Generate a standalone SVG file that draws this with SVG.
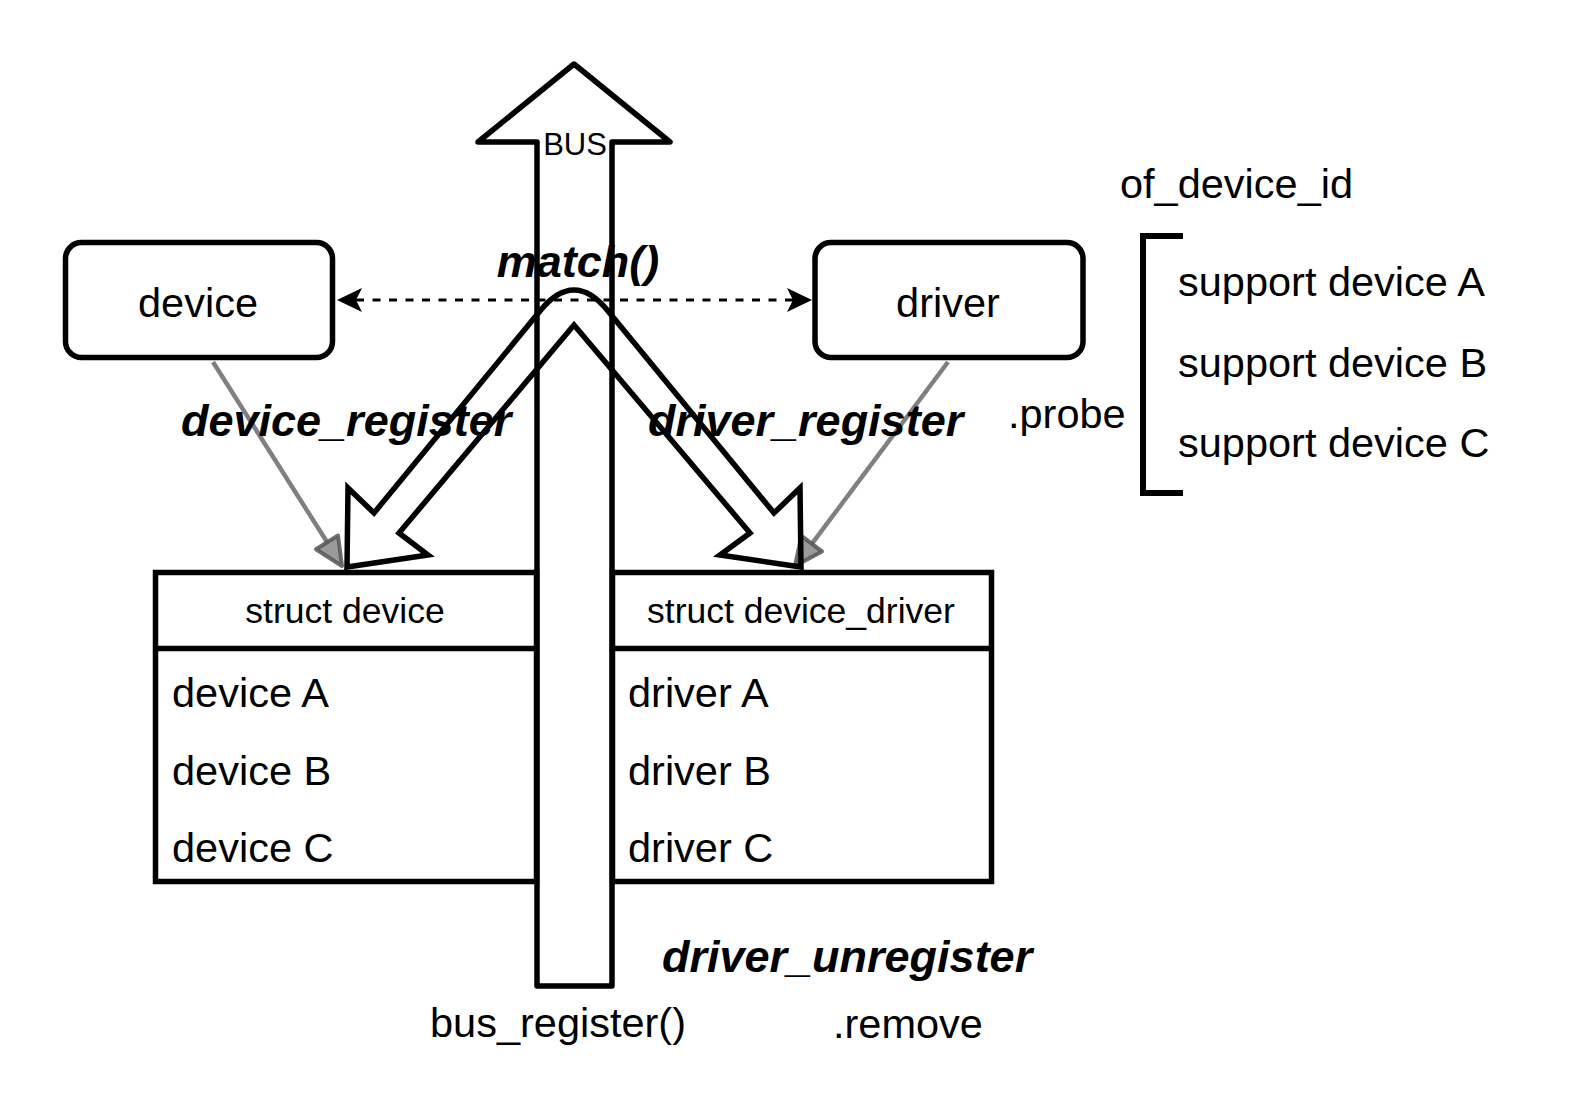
<svg xmlns="http://www.w3.org/2000/svg" width="1569" height="1116" viewBox="0 0 1569 1116">
<style>
.t{font-family:"Liberation Sans",Arial,sans-serif;fill:#000}
.r{font-size:41.5px}
.s{font-size:35.5px}
.b{font-size:45px;font-weight:bold;font-style:italic}
.box{fill:#fff;stroke:#000;stroke-width:5.5}
.big{fill:none;stroke:#000;stroke-width:5.5}
.gray{stroke:#808080;stroke-width:4.5;fill:none}
.gh{fill:#9a9a9a;stroke:#555;stroke-width:4;stroke-linejoin:round;stroke-opacity:0.85}
</style>
<rect width="1569" height="1116" fill="#fff"/>
<g id="bus">
<polygon points="574,64 670,142 612,142 612,986 537,986 537,142 478,142" fill="#fff" stroke="#000" stroke-width="5.5" stroke-linejoin="round"/>
<text class="t" x="575" y="155" font-size="31" text-anchor="middle">BUS</text>
</g>
<g id="struct-device">
<rect class="box" x="155.5" y="572.5" width="381" height="309"/>
<line x1="155.5" y1="648.5" x2="536.5" y2="648.5" stroke="#000" stroke-width="5.5"/>
<text class="t s" x="345" y="623" text-anchor="middle">struct device</text>
<text class="t r" x="172" y="707">device A</text>
<text class="t r" x="172" y="785">device B</text>
<text class="t r" x="172" y="862">device C</text>
</g>
<g id="struct-device-driver">
<rect class="box" x="612.5" y="572.5" width="379" height="309"/>
<line x1="612.5" y1="648.5" x2="991.5" y2="648.5" stroke="#000" stroke-width="5.5"/>
<text class="t s" x="801" y="623" text-anchor="middle">struct device_driver</text>
<text class="t r" x="628" y="707">driver A</text>
<text class="t r" x="628" y="785">driver B</text>
<text class="t r" x="628" y="862">driver C</text>
</g>
<g id="device">
<rect class="box" x="65.5" y="242.5" width="267" height="115" rx="16"/>
<text class="t r" x="198" y="317" text-anchor="middle">device</text>
</g>
<g id="driver">
<rect class="box" x="815" y="242.5" width="268" height="115" rx="16"/>
<text class="t r" x="948" y="317" text-anchor="middle">driver</text>
</g>
<g id="connectors">
<line class="gray" x1="213" y1="362" x2="327" y2="542"/>
<polygon class="gh" points="342,566 338,535.5 316,549.2"/>
<line class="gray" x1="948" y1="362" x2="812" y2="543.6"/>
<polygon class="gh" points="795,566 822,551.4 801.4,535.8"/>
<line x1="356" y1="300" x2="793" y2="300" stroke="#000" stroke-width="3" stroke-dasharray="8 8.5"/>
<path d="M337,300 L362,288 L356,300 L362,312 Z" fill="#000"/>
<path d="M812,300 L787,288 L793,300 L787,312 Z" fill="#000"/>
<path class="big" d="M347,567 L348,488 L374,513 L540,311 Q574,269 608,311 L774,513 L800,488 L801,567 L720,555 L750,533 L574,325 L399,533 L428,555 Z"/>
</g>
<g id="labels">
<text class="t b" x="578" y="277" font-size="46" text-anchor="middle">match()</text>
<text class="t b" x="181" y="436">device_register</text>
<text class="t b" x="648" y="436">driver_register</text>
<text class="t b" x="662" y="972">driver_unregister</text>
<text class="t r" x="430" y="1037">bus_register()</text>
<text class="t r" x="833" y="1038">.remove</text>
<text class="t r" x="1008" y="428">.probe</text>
<text class="t r" x="1120" y="198">of_device_id</text>
</g>
<g id="of-device-id-list">
<path d="M1183,236 L1143,236 L1143,493 L1183,493" fill="none" stroke="#000" stroke-width="6"/>
<text class="t r" x="1178" y="296">support device A</text>
<text class="t r" x="1178" y="377">support device B</text>
<text class="t r" x="1178" y="457">support device C</text>
</g>
</svg>
